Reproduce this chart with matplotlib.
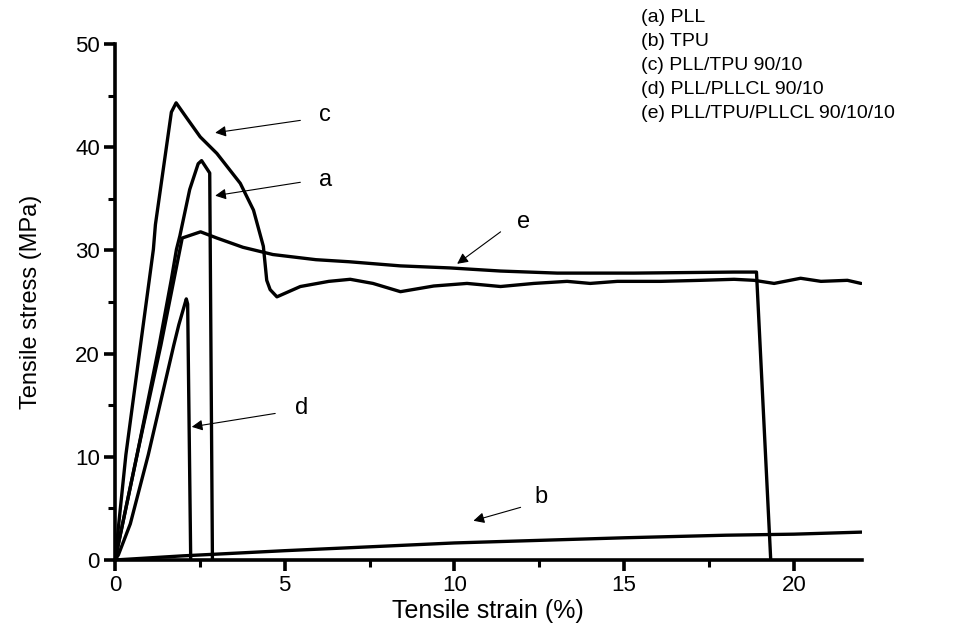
import matplotlib
matplotlib.use("Agg")
import matplotlib.pyplot as plt
from matplotlib.ticker import MultipleLocator

plt.rcParams['font.family'] = ['Liberation Sans', 'DejaVu Sans']

# (a) PLL
a_x = [0, 0.65, 1.30, 1.66, 1.81, 1.91, 2.20, 2.45, 2.55, 2.65, 2.79, 2.87]
a_y = [0, 10.2, 20.8, 27.2, 30.1, 31.4, 35.9, 38.4, 38.7, 38.2, 37.5, 0]

# (b) TPU
b_x = [0, 2, 5, 8, 10, 12, 15, 18, 20, 22]
b_y = [0, 0.4, 0.9, 1.35, 1.65, 1.85, 2.15, 2.4, 2.5, 2.7]

# (c) PLL/TPU 90/10
c_x = [0, 0.32, 0.75, 1.13, 1.19, 1.66, 1.80, 2.12, 2.51, 3.0, 3.69, 4.08, 4.37, 4.47,
       4.57, 4.77, 5.46, 6.3, 6.93, 7.6, 8.41, 9.39, 10.37, 11.36, 12.34, 13.32, 14.0,
       14.8, 16.08, 17.26, 18.24, 18.83, 19.42, 20.2, 20.8, 21.58, 21.98]
c_y = [0, 10.2, 20.8, 30.1, 32.5, 43.4, 44.3, 42.8, 41.0, 39.4, 36.5, 33.9, 30.4, 27.1,
       26.2, 25.5, 26.5, 27.0, 27.2, 26.8, 26.0, 26.55, 26.8, 26.5, 26.8, 27.0, 26.8,
       27.0, 27.0, 27.1, 27.2, 27.1, 26.8, 27.3, 27.0, 27.1, 26.8]

# (d) PLL/PLLCL 90/10
d_x = [0, 0.1, 0.45, 0.98, 1.73, 1.88, 2.10, 2.14, 2.23]
d_y = [0, 0.5, 3.5, 10.2, 20.8, 22.8, 25.3, 24.8, 0]

# (e) PLL/TPU/PLLCL 90/10/10
e_x = [0, 0.65, 1.35, 1.98, 2.52, 3.0, 3.77, 4.65, 5.92, 6.9, 8.41, 9.88, 11.36, 13.03,
       15.29, 18.24, 18.90, 19.32]
e_y = [0, 10.2, 20.8, 31.2, 31.8, 31.2, 30.3, 29.6, 29.1, 28.9, 28.5, 28.3, 28.0, 27.8,
       27.8, 27.9, 27.9, 0]

legend_lines = ["(a) PLL", "(b) TPU", "(c) PLL/TPU 90/10", "(d) PLL/PLLCL 90/10",
                "(e) PLL/TPU/PLLCL 90/10/10"]

# annotation labels: letter, label pos, arrow tail, arrow head
ann_letters = ["c", "a", "e", "d", "b"]
ann_text = [(6.19, 43.1), (6.19, 36.8), (12.04, 32.8), (5.51, 14.7), (12.54, 6.1)]
ann_tail = [(5.46, 42.6), (5.46, 36.6), (11.36, 31.8), (4.72, 14.2), (11.95, 5.1)]
ann_head = [(2.95, 41.4), (2.95, 35.3), (10.08, 28.7), (2.26, 12.9), (10.56, 3.8)]

fig = plt.figure(figsize=(9.57, 6.38), dpi=100)
ax = fig.add_axes([0.1202, 0.1223, 0.7802, 0.8087])

lw = 2.4
for xs, ys in [(a_x, a_y), (b_x, b_y), (c_x, c_y), (d_x, d_y), (e_x, e_y)]:
    ax.plot(xs, ys, color='black', lw=lw, solid_joinstyle='round', solid_capstyle='round')

for lab, tp, tl, hd in zip(ann_letters, ann_text, ann_tail, ann_head):
    ax.annotate("", xy=hd, xytext=tl,
                arrowprops=dict(arrowstyle='-|>', color='black', lw=0.8,
                                mutation_scale=16, shrinkA=0, shrinkB=0))
    ax.text(tp[0], tp[1], lab, fontsize=17, ha='center', va='center')

ax.set_xlim(0, 22)
ax.set_ylim(0, 50)
ax.xaxis.set_major_locator(MultipleLocator(5))
ax.xaxis.set_minor_locator(MultipleLocator(2.5))
ax.yaxis.set_major_locator(MultipleLocator(10))
ax.yaxis.set_minor_locator(MultipleLocator(5))
for s in ['top', 'right']:
    ax.spines[s].set_visible(False)
for s in ['left', 'bottom']:
    ax.spines[s].set_linewidth(2.6)
ax.tick_params(which='major', direction='out', length=8, width=2.6, labelsize=16, pad=3)
ax.tick_params(which='minor', direction='out', length=5, width=2.2)
ax.set_xlabel("Tensile strain (%)", fontsize=18, labelpad=2)
ax.set_ylabel("Tensile stress (MPa)", fontsize=17, labelpad=24)

for i, t in enumerate(legend_lines):
    fig.text(641 / 957, 1 - (17 + 24 * i) / 638, t, fontsize=14, ha='left', va='center')

fig.savefig("out.png", dpi=100)
